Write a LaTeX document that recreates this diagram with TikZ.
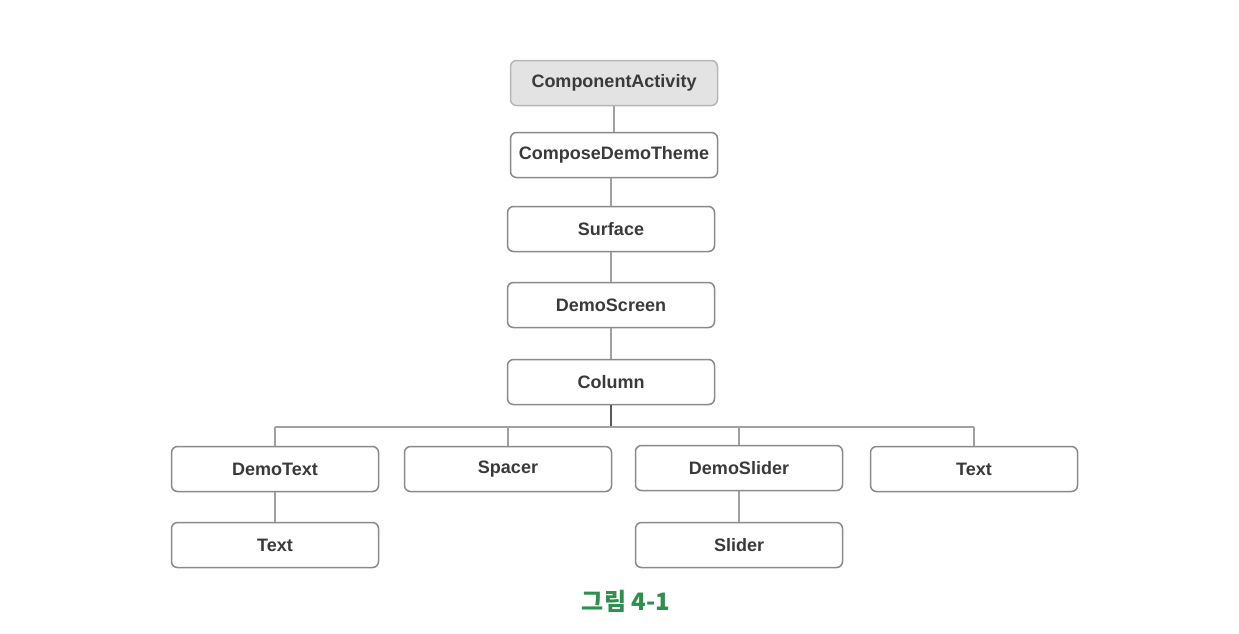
\documentclass[tikz,border=0pt]{standalone}
\usepackage{fontspec}
\setmainfont{Liberation Sans}
\newfontfamily\krfont{Noto Sans CJK KR}
\begin{document}
\begin{tikzpicture}[x=1pt,y=-1pt]
\definecolor{boxline}{HTML}{8A8A8A}
\definecolor{linkline}{HTML}{A0A0A0}
\definecolor{txt}{HTML}{3A3A3A}
\definecolor{topfill}{HTML}{E3E3E3}
\definecolor{capgreen}{HTML}{2F8F4E}
\tikzset{
  cbox/.style={draw=boxline, line width=1.5pt, rounded corners=6pt, fill=white,
    minimum width=207pt, minimum height=45pt, inner sep=0pt,
    font=\fontsize{18}{20}\selectfont\bfseries, text=txt},
  topbox/.style={cbox, fill=topfill, draw=topfill!80!black},
  link/.style={draw=linkline, line width=2pt}
}
\useasboundingbox (0,0) rectangle (1239,633);
\node[topbox] (ca) at (614,83) {ComponentActivity};
\node[cbox] (cdt) at (614,155) {ComposeDemoTheme};
\node[cbox] (sf) at (611,229) {Surface};
\node[cbox] (ds) at (611,305) {DemoScreen};
\node[cbox] (col) at (611,382) {Column};
\node[cbox] (dt) at (275,469) {DemoText};
\node[cbox] (sp) at (508,469) {Spacer};
\node[cbox] (dsl) at (739,468) {DemoSlider};
\node[cbox] (tx) at (974,469) {Text};
\node[cbox] (tx2) at (275,545) {Text};
\node[cbox] (sl) at (739,545) {Slider};
\coordinate (bus) at (611,427);
\draw[link] (ca.south -| cdt.north) -- (cdt.north);
\draw[link] (cdt.south -| sf.north) -- (sf.north);
\draw[link] (sf) -- (ds);
\draw[link] (ds) -- (col);
\draw[link, draw=black!65] (col.south) -- (bus);
\draw[link] (dt.north |- bus) -- (tx.north |- bus);
\draw[link] (dt.north |- bus) -- (dt.north);
\draw[link] (sp.north |- bus) -- (sp.north);
\draw[link] (dsl.north |- bus) -- (dsl.north);
\draw[link] (tx.north |- bus) -- (tx.north);
\draw[link] (dt) -- (tx2);
\draw[link] (dsl) -- (sl);
\node[text=capgreen, font=\krfont\bfseries\fontsize{24}{26}\selectfont] (cap) at (626,601) {그림 4-1};
\end{tikzpicture}
\end{document}
